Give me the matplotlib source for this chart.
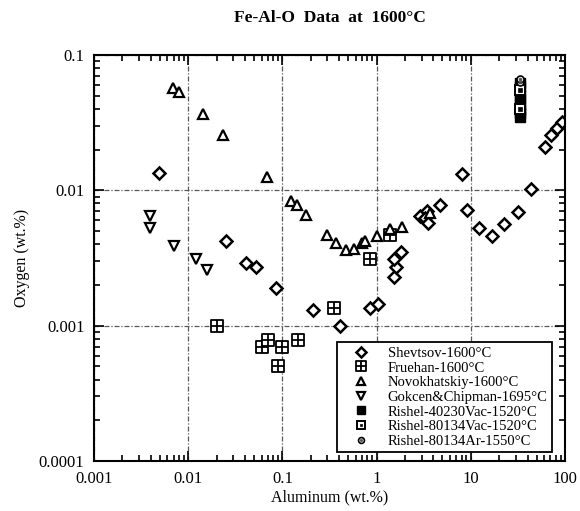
import matplotlib
matplotlib.use("Agg")
import matplotlib.pyplot as plt
from matplotlib.path import Path
from matplotlib.ticker import LogLocator, NullFormatter
import numpy as np

plt.rcParams['font.family'] = ['Liberation Serif', 'DejaVu Serif']

# ---- data ----
shev_x = [0.0049, 0.025, 0.041, 0.053, 0.085, 0.21, 0.41, 0.85, 1.04, 1.53, 1.6, 1.53, 1.8,
          2.9, 3.4, 3.3, 3.5, 4.7, 8.0, 9.2, 12.3, 16.6, 22.7, 32, 44, 61, 71, 82, 93]
shev_y = [0.0134, 0.0042, 0.0029, 0.0027, 0.0019, 0.0013, 0.001, 0.00136, 0.00145, 0.0023, 0.0027,
          0.0031, 0.0035, 0.0065, 0.0070, 0.0062, 0.0057, 0.0078, 0.0131, 0.0072, 0.0053, 0.0046,
          0.0056, 0.0069, 0.0102, 0.021, 0.0256, 0.029, 0.032]

fru_x = [0.02, 0.06, 0.07, 0.09, 0.1, 0.147, 0.35, 0.85, 1.4]
fru_y = [0.001, 0.0007, 0.00078, 0.0005, 0.0007, 0.00078, 0.00136, 0.0031, 0.0047]

nov_x = [0.0069, 0.008, 0.0143, 0.0236, 0.068, 0.123, 0.142, 0.178, 0.30, 0.37, 0.47, 0.57,
         0.70, 0.75, 1.0, 1.39, 1.87, 3.7]
nov_y = [0.057, 0.053, 0.0366, 0.0256, 0.0125, 0.0084, 0.0078, 0.0066, 0.0047, 0.0041, 0.0036,
         0.0037, 0.0041, 0.0042, 0.0046, 0.0052, 0.0054, 0.0068]

gok_x = [0.0039, 0.0039, 0.0071, 0.012, 0.016]
gok_y = [0.0065, 0.0053, 0.0039, 0.0031, 0.0026]

r1_x = [33, 33, 33, 33, 33, 33, 33, 33]
r1_y = [0.035, 0.037, 0.039, 0.043, 0.047, 0.051, 0.058, 0.062]
r2_x = [33, 33]
r2_y = [0.040, 0.055]
r3_x = [33, 33]
r3_y = [0.063, 0.067]

labels = ["Shevtsov-1600°C", "Fruehan-1600°C", "Novokhatskiy-1600°C", "Gokcen&Chipman-1695°C",
          "Rishel-40230Vac-1520°C", "Rishel-80134Vac-1520°C", "Rishel-80134Ar-1550°C"]
title = "Fe-Al-O  Data  at  1600°C"
xlabel = "Aluminum (wt.%)"
ylabel = "Oxygen (wt.%)"
xticks = [0.001, 0.01, 0.1, 1, 10, 100]
xticklabels = ["0.001", "0.01", "0.1", "1", "10", "100"]
yticks = [0.0001, 0.001, 0.01, 0.1]
yticklabels = ["0.0001", "0.001", "0.01", "0.1"]

# custom marker: square with a cross inside
sq_cross = Path([(-1, -1), (1, -1), (1, 1), (-1, 1), (-1, -1), (0, -1), (0, 1), (-1, 0), (1, 0)],
                [Path.MOVETO, Path.LINETO, Path.LINETO, Path.LINETO, Path.CLOSEPOLY,
                 Path.MOVETO, Path.LINETO, Path.MOVETO, Path.LINETO])

fig = plt.figure(figsize=(5.8, 5.11), dpi=100)
ax = fig.add_axes([94/580, 1-461/511, (565-94)/580, (461-55)/511])
ax.set_xscale('log')
ax.set_yscale('log')
ax.set_xlim(0.001, 100)
ax.set_ylim(0.0001, 0.1)

ax.grid(True, which='major', color='0.35', linestyle=(0, (4, 1.5, 1, 1.5)), linewidth=0.9)
ax.set_axisbelow(True)

h1, = ax.plot(shev_x, shev_y, linestyle='none', marker='D', markersize=6.3, mfc='white',
              mec='black', mew=1.8)
h2, = ax.plot(fru_x, fru_y, linestyle='none', marker=sq_cross, markersize=8, mfc='white',
              mec='black', mew=1.3)
h3, = ax.plot(nov_x, nov_y, linestyle='none', marker='^', markersize=7, mfc='white',
              mec='black', mew=1.6)
h4, = ax.plot(gok_x, gok_y, linestyle='none', marker='v', markersize=7, mfc='white',
              mec='black', mew=1.6)
h5, = ax.plot(r1_x, r1_y, linestyle='none', marker='s', markersize=7, mfc='black',
              mec='black', mew=1.0)
h6a, = ax.plot(r2_x, r2_y, linestyle='none', marker='s', markersize=7, mfc='white',
               mec='black', mew=1.4)
h6b, = ax.plot(r2_x, r2_y, linestyle='none', marker='s', markersize=2.2, mfc='black',
               mec='black', mew=0.5)
h7a, = ax.plot(r3_x, r3_y, linestyle='none', marker='o', markersize=5, mfc='white',
               mec='black', mew=1.2)
h7b, = ax.plot(r3_x, r3_y, linestyle='none', marker='o', markersize=2, mfc='0.3',
               mec='0.3', mew=0.5)

ax.set_xticks(xticks)
ax.set_xticklabels(xticklabels)
ax.set_yticks(yticks)
ax.set_yticklabels(yticklabels)
ax.xaxis.set_minor_locator(LogLocator(base=10, subs=np.arange(2, 10), numticks=20))
ax.yaxis.set_minor_locator(LogLocator(base=10, subs=np.arange(2, 10), numticks=20))
ax.xaxis.set_minor_formatter(NullFormatter())
ax.yaxis.set_minor_formatter(NullFormatter())
ax.tick_params(which='both', direction='in', top=True, right=True, labelsize=12, width=1.2)
ax.tick_params(which='major', length=7, pad=7)
ax.tick_params(which='minor', length=4)
for s in ax.spines.values():
    s.set_linewidth(1.5)

ax.set_xlabel(xlabel, fontsize=11.5, labelpad=2)
ax.set_ylabel(ylabel, fontsize=11.5, labelpad=6)
ax.set_title(title, fontsize=12.5, fontweight='bold', pad=24)

leg = ax.legend([h1, h2, h3, h4, h5, (h6a, h6b), (h7a, h7b)], labels, loc='lower right',
                bbox_to_anchor=(0.972, 0.0215), fontsize=10.5, frameon=True, fancybox=False,
                edgecolor='black', framealpha=1, borderpad=0.3, labelspacing=0.1,
                handlelength=2.7, handletextpad=0.45, borderaxespad=0.0, markerscale=0.85)
leg.get_frame().set_linewidth(1.3)

fig.savefig('out.png', dpi=100)
